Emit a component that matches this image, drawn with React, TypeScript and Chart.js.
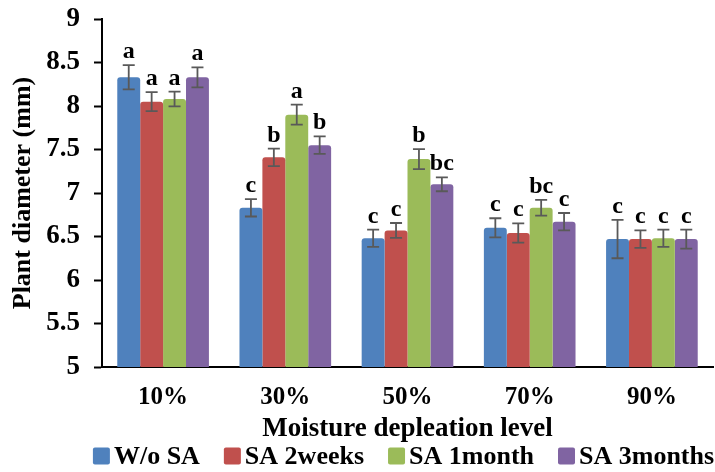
import React, { useEffect, useRef } from "react";
import { Chart, registerables } from "chart.js";

Chart.register(...registerables);

const categories = ["10%", "30%", "50%", "70%", "90%"];
const seriesNames = ["W/o SA", "SA 2weeks", "SA 1month", "SA 3months"];
const seriesColors = ["#4F81BD", "#C0504D", "#9BBB59", "#8064A2"];

const woSA = [8.33, 6.83, 6.48, 6.6, 6.47];
const sa2weeks = [8.05, 7.41, 6.57, 6.54, 6.47];
const sa1month = [8.08, 7.9, 7.39, 6.83, 6.48];
const sa3months = [8.33, 7.55, 7.1, 6.67, 6.47];

const woSAErr = [0.14, 0.1, 0.1, 0.11, 0.22];
const sa2weeksErr = [0.11, 0.1, 0.085, 0.11, 0.1];
const sa1monthErr = [0.085, 0.115, 0.115, 0.09, 0.1];
const sa3monthsErr = [0.115, 0.1, 0.08, 0.1, 0.11];

const woSALetters = ["a", "c", "c", "c", "c"];
const sa2weeksLetters = ["a", "b", "c", "c", "c"];
const sa1monthLetters = ["a", "a", "b", "bc", "c"];
const sa3monthsLetters = ["a", "b", "bc", "c", "c"];

const yTicks = [5, 5.5, 6, 6.5, 7, 7.5, 8, 8.5, 9];

const xTitle = "Moisture depleation level";
const yTitle = "Plant diameter (mm)";

const allValues = [woSA, sa2weeks, sa1month, sa3months];
const allErrors = [woSAErr, sa2weeksErr, sa1monthErr, sa3monthsErr];
const allLetters = [woSALetters, sa2weeksLetters, sa1monthLetters, sa3monthsLetters];

const FONT = "'Liberation Serif', 'Times New Roman', serif";

const errorBarPlugin = {
  id: "errorBarsLetters",
  afterDatasetsDraw(chart: any) {
    const ctx = chart.ctx;
    const y = chart.scales.y;
    chart.data.datasets.forEach((ds: any, di: number) => {
      const meta = chart.getDatasetMeta(di);
      meta.data.forEach((bar: any, i: number) => {
        const v = allValues[di][i];
        const e = allErrors[di][i];
        const x = bar.x;
        const yTop = y.getPixelForValue(v + e);
        const yBot = y.getPixelForValue(v - e);
        ctx.save();
        ctx.strokeStyle = "#595959";
        ctx.lineWidth = 1.8;
        ctx.beginPath();
        ctx.moveTo(x, yTop);
        ctx.lineTo(x, yBot);
        ctx.moveTo(x - 6, yTop);
        ctx.lineTo(x + 6, yTop);
        ctx.moveTo(x - 6, yBot);
        ctx.lineTo(x + 6, yBot);
        ctx.stroke();
        ctx.fillStyle = "#000";
        ctx.font = `bold 24px ${FONT}`;
        ctx.textAlign = "center";
        ctx.textBaseline = "alphabetic";
        ctx.fillText(allLetters[di][i], x, yTop - 7);
        ctx.restore();
      });
    });
  },
};

const customLegendPlugin = {
  id: "customLegend",
  afterDraw(chart: any) {
    const ctx = chart.ctx;
    const area = chart.chartArea;
    const box = 17;
    const boxGap = 4;
    const itemGap = 24;
    ctx.save();
    ctx.font = `bold 26px ${FONT}`;
    const widths = seriesNames.map((n) => ctx.measureText(n).width);
    const total = widths.reduce((a, w) => a + box + boxGap + w, 0) + itemGap * (seriesNames.length - 1);
    let x = (area.left + area.right) / 2 - total / 2 - 4;
    const cy = chart.height - 16;
    seriesNames.forEach((n, i) => {
      ctx.fillStyle = seriesColors[i];
      ctx.beginPath();
      (ctx as any).roundRect ? (ctx as any).roundRect(x, cy - box / 2, box, box, 2) : ctx.rect(x, cy - box / 2, box, box);
      ctx.fill();
      ctx.fillStyle = "#000";
      ctx.textAlign = "left";
      ctx.textBaseline = "middle";
      ctx.fillText(n, x + box + boxGap, cy + 1);
      x += box + boxGap + widths[i] + itemGap;
    });
    ctx.restore();
  },
};

export default function App() {
  const ref = useRef<HTMLCanvasElement | null>(null);
  useEffect(() => {
    if (!ref.current) return;
    const chart = new Chart(ref.current, {
      type: "bar",
      data: {
        labels: categories,
        datasets: seriesNames.map((name, i) => ({
          label: name,
          data: allValues[i],
          backgroundColor: seriesColors[i],
          borderColor: seriesColors[i],
          borderWidth: 0,
          borderRadius: { topLeft: 3, topRight: 3, bottomLeft: 0, bottomRight: 0 },
          borderSkipped: false,
          categoryPercentage: 0.75,
          barPercentage: 1,
        })),
      },
      options: {
        animation: false,
        responsive: false,
        maintainAspectRatio: false,
        layout: { padding: { top: 19, right: 2, left: 0, bottom: 25 } },
        plugins: {
          legend: { display: false },
          tooltip: { enabled: false },
        },
        scales: {
          x: {
            afterFit: (scale: any) => {
              scale.height = 80;
            },
            grid: { display: false, drawTicks: false },
            border: { display: true, color: "#000", width: 2 },
            ticks: {
              font: { family: FONT, size: 25, weight: "bold" },
              color: "#000",
              padding: 16,
            },
            title: {
              display: true,
              text: xTitle,
              font: { family: FONT, size: 27, weight: "bold" },
              color: "#000",
              padding: { top: 0, bottom: 2 },
            },
          },
          y: {
            min: 5,
            max: 9,
            afterBuildTicks: (scale: any) => {
              scale.ticks = yTicks.map((v) => ({ value: v }));
            },
            afterFit: (scale: any) => {
              scale.width = 102;
              scale.paddingTop = 0;
              scale.paddingBottom = 0;
            },
            grid: { display: true, drawOnChartArea: false, drawTicks: true, tickLength: 8, color: "#000", tickWidth: 2 },
            border: { display: true, color: "#000", width: 2 },
            ticks: {
              font: { family: FONT, size: 27, weight: "bold" },
              color: "#000",
              padding: 14,
              callback: (v: any) => String(v),
            },
            title: {
              display: true,
              text: yTitle,
              font: { family: FONT, size: 26, weight: "bold" },
              color: "#000",
              padding: { top: 8, bottom: 4 },
            },
          },
        },
      },
      plugins: [errorBarPlugin, customLegendPlugin],
    });
    return () => chart.destroy();
  }, []);
  return (
    <div style={{ position: "absolute", left: 0, top: 0, width: 715, height: 472, background: "#fff" }}>
      <canvas ref={ref} width={715} height={472} style={{ width: 715, height: 472 }} />
    </div>
  );
}
